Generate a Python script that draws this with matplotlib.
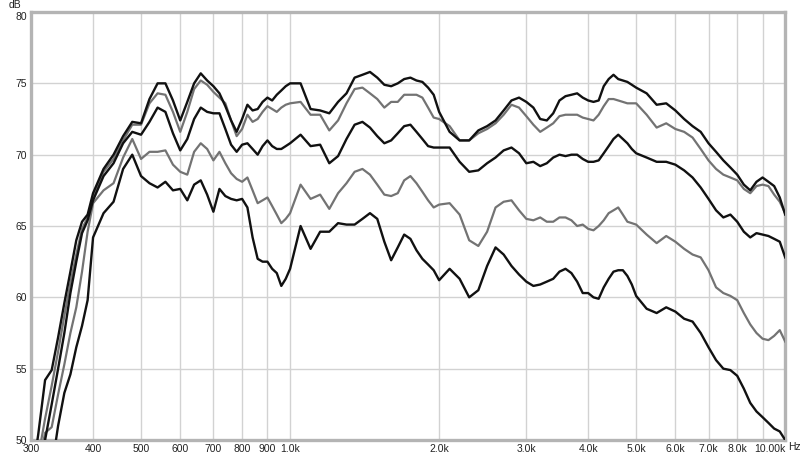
import matplotlib
matplotlib.use("Agg")
import matplotlib.pyplot as plt
from matplotlib.ticker import NullLocator

plt.rcParams['font.family'] = ['Liberation Sans', 'DejaVu Sans']

# frequency grid (Hz)
freq = [300, 310, 320, 330, 340, 350, 360, 370, 380, 390, 400,
        420, 440, 460, 480, 500, 520, 540, 560, 580, 600, 620, 640, 660, 680,
        700, 720, 740, 760, 780, 800, 820, 840, 860, 880, 900, 920, 940, 960, 980, 1000,
        1050, 1100, 1150, 1200, 1250, 1300, 1350, 1400, 1450, 1500, 1550, 1600,
        1650, 1700, 1750, 1800, 1850, 1900, 1950, 2000,
        2100, 2200, 2300, 2400, 2500, 2600, 2700, 2800, 2900, 3000,
        3100, 3200, 3300, 3400, 3500, 3600, 3700, 3800, 3900, 4000,
        4100, 4200, 4300, 4400, 4500, 4600, 4700, 4800, 4900, 5000,
        5250, 5500, 5750, 6000, 6250, 6500, 6750, 7000, 7250, 7500,
        7750, 8000, 8250, 8500, 8750, 9000, 9250, 9500, 9750, 10000]

# SPL curves (dB), top to bottom
spl_1 = [47.0, 50.4, 54.2, 54.9, 57.2, 59.6, 61.8, 64.0, 65.3, 65.8, 67.3,
         69.0, 70.0, 71.3, 72.3, 72.2, 73.9, 75.0, 75.0, 73.8, 72.4, 73.7, 75.0, 75.7, 75.2,
         74.8, 74.3, 73.4, 72.4, 71.6, 72.5, 73.5, 73.1, 73.2, 73.7, 74.0, 73.8, 74.2, 74.5, 74.8, 75.0,
         75.0, 73.2, 73.1, 72.9, 73.7, 74.3, 75.4, 75.6, 75.8, 75.4, 74.9, 74.8,
         75.0, 75.3, 75.4, 75.2, 75.1, 74.7, 74.2, 73.0,
         71.6, 71.0, 71.0, 71.7, 72.0, 72.4, 73.1, 73.8, 74.0, 73.7,
         73.3, 72.5, 72.4, 72.9, 73.8, 74.1, 74.2, 74.3, 74.0, 73.8,
         73.7, 73.8, 74.8, 75.3, 75.6, 75.3, 75.2, 75.1, 74.9, 74.7,
         74.3, 73.5, 73.6, 73.1, 72.5, 72.0, 71.6, 70.8, 70.2, 69.6,
         69.1, 68.6, 67.9, 67.5, 68.1, 68.4, 68.1, 67.8, 67.0, 65.8]

spl_2 = [46.0, 48.8, 51.5, 53.8, 56.2, 58.7, 61.0, 63.0, 64.8, 65.6, 67.0,
         68.8, 69.7, 71.0, 72.1, 72.1, 73.6, 74.3, 74.2, 73.0, 71.6, 73.0, 74.6, 75.2, 74.9,
         74.4, 74.0, 73.6, 72.4, 71.3, 71.8, 72.8, 72.3, 72.5, 73.0, 73.4, 73.2, 73.0, 73.3, 73.5, 73.6,
         73.7, 72.8, 72.8, 71.7, 72.4, 73.6, 74.6, 74.7, 74.3, 73.9, 73.3, 73.7,
         73.7, 74.2, 74.2, 74.2, 74.0, 73.3, 72.6, 72.5,
         72.0, 71.0, 71.0, 71.5, 71.8, 72.2, 72.8, 73.5, 73.3, 72.7,
         72.1, 71.6, 71.9, 72.2, 72.7, 72.8, 72.8, 72.8, 72.6, 72.5,
         72.4, 72.8, 73.4, 73.9, 73.9, 73.8, 73.7, 73.6, 73.6, 73.6,
         72.8, 71.9, 72.2, 71.8, 71.6, 71.2, 70.4, 69.6, 69.0, 68.6,
         68.4, 68.2, 67.6, 67.3, 67.8, 67.9, 67.8, 67.2, 66.7, 65.9]

spl_3 = [45.0, 47.5, 50.0, 52.5, 55.0, 57.5, 60.3, 62.5, 64.5, 65.4, 66.8,
         68.5, 69.4, 70.8, 71.6, 71.4, 72.3, 73.3, 73.0, 71.5, 70.3, 71.1, 72.5, 73.3, 73.0,
         72.9, 72.9, 71.8, 70.7, 70.2, 70.7, 70.8, 70.4, 70.0, 70.6, 71.0, 70.6, 70.4, 70.4, 70.6, 70.8,
         71.4, 70.6, 70.7, 69.4, 69.9, 71.1, 72.1, 72.3, 71.9, 71.3, 70.8, 71.0,
         71.5, 72.0, 72.1, 71.6, 71.1, 70.6, 70.5, 70.5,
         70.5, 69.5, 68.8, 68.9, 69.4, 69.8, 70.3, 70.5, 70.1, 69.4,
         69.5, 69.2, 69.4, 69.8, 70.0, 69.9, 70.0, 70.0, 69.7, 69.5,
         69.5, 69.6, 70.1, 70.6, 71.1, 71.4, 71.1, 70.8, 70.4, 70.1,
         69.8, 69.5, 69.5, 69.3, 68.9, 68.4, 67.7, 66.9, 66.1, 65.6,
         65.8, 65.3, 64.6, 64.2, 64.5, 64.4, 64.3, 64.1, 63.9, 62.8]

spl_4 = [44.0, 48.0, 50.5, 50.9, 53.2, 55.3, 57.5, 59.3, 61.8, 64.6, 66.6,
         67.5, 68.0, 69.8, 71.1, 69.7, 70.2, 70.2, 70.3, 69.3, 68.8, 68.6, 70.2, 70.8, 70.4,
         69.6, 70.2, 69.4, 68.7, 68.3, 68.1, 68.4, 67.5, 66.6, 66.8, 67.0, 66.4, 65.8, 65.2, 65.5, 65.9,
         67.9, 66.9, 67.2, 66.2, 67.3, 68.0, 68.8, 69.0, 68.6, 67.9, 67.2, 67.1,
         67.3, 68.2, 68.5, 68.0, 67.4, 66.8, 66.3, 66.5,
         66.6, 65.8, 64.0, 63.6, 64.6, 66.3, 66.7, 66.8, 66.1, 65.5,
         65.4, 65.6, 65.3, 65.3, 65.6, 65.6, 65.4, 65.0, 65.1, 64.8,
         64.7, 65.0, 65.4, 65.9, 66.1, 66.3, 65.8, 65.3, 65.2, 65.1,
         64.4, 63.8, 64.3, 63.9, 63.4, 63.0, 62.8, 61.9, 60.7, 60.3,
         60.1, 59.8, 58.9, 58.1, 57.5, 57.1, 57.0, 57.3, 57.7, 56.9]

spl_5 = [42.0, 44.0, 46.0, 48.0, 51.0, 53.3, 54.6, 56.5, 58.0, 59.8, 64.2,
         65.9, 66.7, 69.0, 70.0, 68.5, 68.0, 67.7, 68.1, 67.5, 67.6, 66.8, 67.9, 68.2, 67.2,
         66.0, 67.6, 67.1, 66.9, 66.8, 66.9, 66.3, 64.2, 62.7, 62.5, 62.5, 62.0, 61.7, 60.8, 61.3, 62.0,
         65.0, 63.4, 64.6, 64.6, 65.2, 65.1, 65.1, 65.5, 65.9, 65.5, 63.9, 62.6,
         63.5, 64.4, 64.1, 63.3, 62.7, 62.3, 61.9, 61.2,
         62.0, 61.3, 60.0, 60.5, 62.2, 63.5, 63.0, 62.2, 61.6, 61.1,
         60.8, 60.9, 61.1, 61.3, 61.8, 62.0, 61.7, 61.1, 60.3, 60.3,
         60.0, 59.9, 60.7, 61.3, 61.8, 61.9, 61.9, 61.5, 60.9, 60.1,
         59.2, 58.9, 59.3, 59.0, 58.5, 58.3, 57.5, 56.5, 55.6, 55.0,
         54.9, 54.5, 53.6, 52.6, 52.0, 51.6, 51.2, 50.8, 50.6, 50.0]

xticks = [300, 400, 500, 600, 700, 800, 900, 1000, 2000, 3000, 4000,
          5000, 6000, 7000, 8000, 9000, 10000]
xlabels = ['300', '400', '500', '600', '700', '800', '900', '1.0k', '2.0k', '3.0k',
           '4.0k', '5.0k', '6.0k', '7.0k', '8.0k', '', '10.00k']
yticks = [50, 55, 60, 65, 70, 75, 80]

fig = plt.figure(figsize=(8, 4.57), dpi=100)
ax = fig.add_axes([0.039, 0.0372, 0.9425, 0.9365])

ax.plot(freq, spl_1, color='#111111', lw=1.7, zorder=5)
ax.plot(freq, spl_2, color='#737373', lw=1.6, zorder=4)
ax.plot(freq, spl_3, color='#111111', lw=1.7, zorder=5)
ax.plot(freq, spl_4, color='#737373', lw=1.6, zorder=4)
ax.plot(freq, spl_5, color='#111111', lw=1.7, zorder=5)

ax.set_xscale('log')
ax.set_xlim(300, 10000)
ax.set_ylim(50, 80)
ax.xaxis.set_minor_locator(NullLocator())
ax.set_xticks(xticks)
ax.set_xticklabels(xlabels)
ax.set_yticks(yticks)
ax.set_yticklabels([str(v) for v in yticks])
ax.tick_params(length=0, labelsize=7.5, colors='#222222')
ax.tick_params(axis='x', pad=3)
ax.tick_params(axis='y', pad=3)

for lab in ax.get_xticklabels():
    if lab.get_text() == '10.00k':
        lab.set_ha('right')
for lab in ax.get_yticklabels():
    if lab.get_text() == '80':
        lab.set_va('top')

ax.grid(True, color='#d2d2d2', lw=1.0, zorder=0)
ax.set_axisbelow(True)
for sp in ax.spines.values():
    sp.set_color('#b4b4b4')
    sp.set_linewidth(2.4)

fig.text(15 / 800, 1 - 5 / 457, 'dB', ha='center', va='center', fontsize=7.5, color='#222222')
fig.text(788 / 800, 1 - 447 / 457, 'Hz', ha='left', va='center', fontsize=7.5, color='#222222')

fig.savefig('out.png', dpi=100, facecolor='white')
